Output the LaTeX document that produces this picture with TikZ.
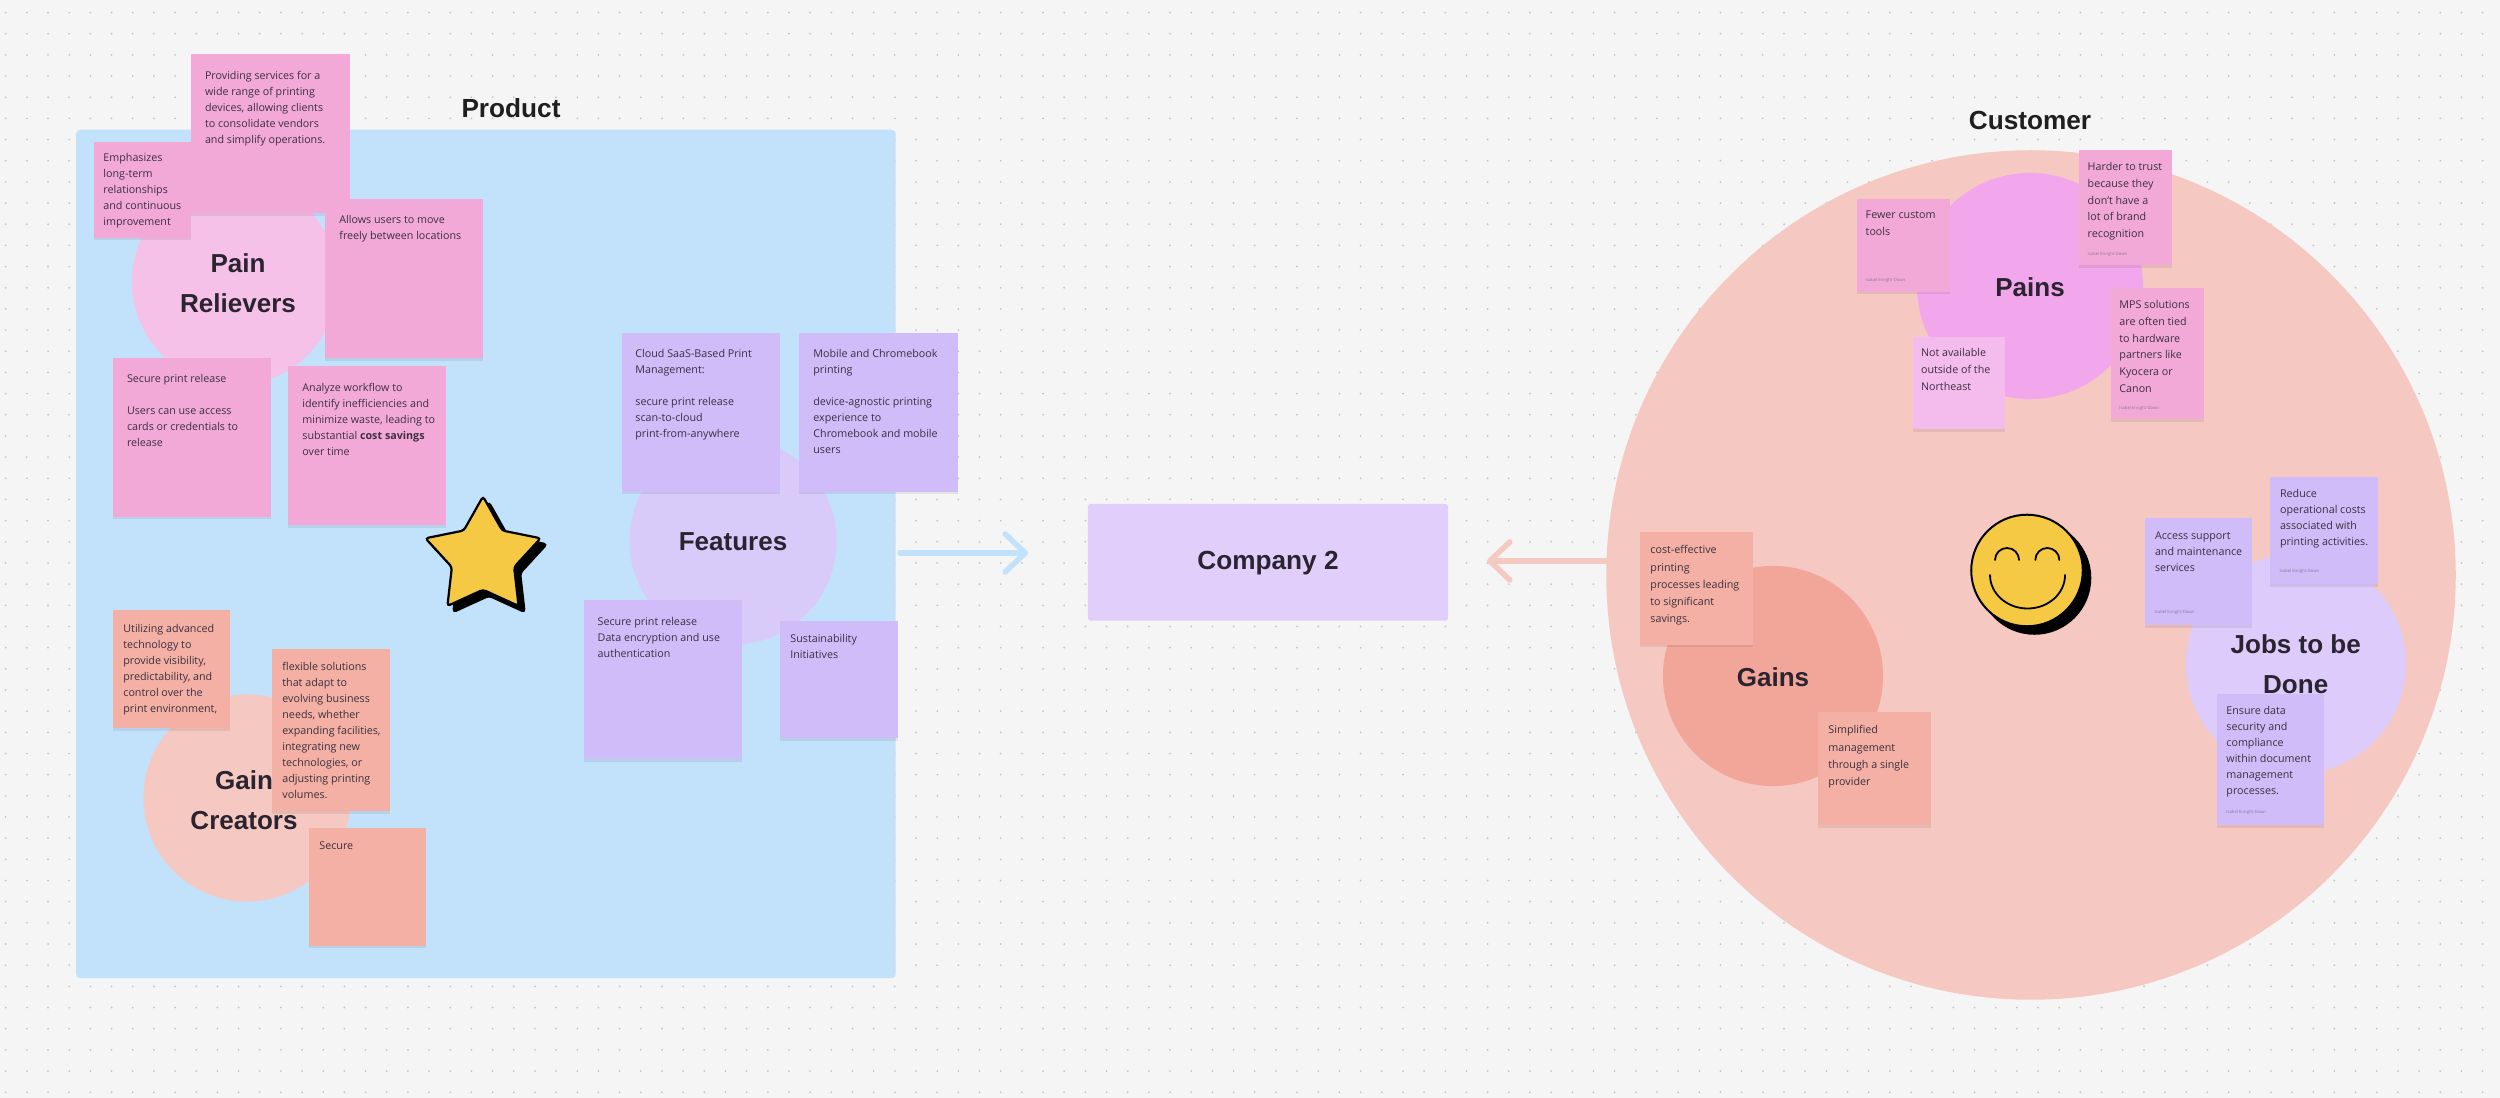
\documentclass[tikz,border=0pt]{standalone}
\usepackage{fontspec}
\setmainfont{Open Sans}
\newfontfamily\headfont{Liberation Sans}
\usetikzlibrary{shapes.geometric, arrows.meta, shadows}
\definecolor{boardbg}{HTML}{F5F5F5}
\definecolor{boarddot}{HTML}{C4C4C4}
\definecolor{productblue}{HTML}{C2E1FB}
\definecolor{customerrose}{HTML}{F6C8C2}
\definecolor{stickypink}{HTML}{F3A9D7}
\definecolor{stickypale}{HTML}{F4BCEC}
\definecolor{stickypeach}{HTML}{F4B0A4}
\definecolor{stickypurple}{HTML}{D0BCF8}
\definecolor{blobpink}{HTML}{F5C1E9}
\definecolor{blobpains}{HTML}{F2A6EC}
\definecolor{blobgains}{HTML}{F2A599}
\definecolor{blobfeatures}{HTML}{D8CBF9}
\definecolor{blobjobs}{HTML}{DDCCFB}
\definecolor{companyfill}{HTML}{E1CEFB}
\definecolor{facegold}{HTML}{F6C945}
\definecolor{inkdark}{HTML}{2A2430}
\definecolor{inknote}{HTML}{3A3040}
\definecolor{inkby}{HTML}{8C7A92}

\begin{document}
\begin{tikzpicture}[
    x=0.01cm, y=-0.01cm,
    sticky/.style={rectangle, fill=#1, anchor=north west, inner sep=0pt, outer sep=0pt,
                   drop shadow={shadow xshift=0pt, shadow yshift=-0.025cm, opacity=.07, fill=black}},
    notetext/.style={anchor=north west, inner sep=0pt, align=left, text=inknote,
                     font=\fontsize{3.05}{4.55}\selectfont},
    notewide/.style={notetext, font=\fontsize{3.05}{4.75}\selectfont},
    byline/.style={anchor=west, inner sep=0pt, text=inkby, font=\fontsize{1.2}{1.4}\selectfont},
    blob/.style={circle, fill=#1, inner sep=0pt, outer sep=0pt},
    bloblabel/.style={inner sep=0pt, align=center, text=inkdark,
                      font=\headfont\fontsize{7.4}{11.38}\selectfont\bfseries},
    title/.style={inner sep=0pt, text=black!88, font=\headfont\fontsize{7.45}{9}\selectfont\bfseries},
    bigarrow/.style={line width=0.055cm, line cap=round, color=#1,
                     -{Straight Barb[length=0.2cm, width=0.38cm, round]}},
    staricon/.style={star, star points=5, star point ratio=1.85, minimum size=1.21cm, inner sep=0pt,
                     line width=0.022cm, draw=black, rounded corners=0.03cm},
    faceicon/.style={circle, minimum size=1.115cm, inner sep=0pt, line width=0.02cm, draw=black}
]
\useasboundingbox (0,0) rectangle (2500,1098);
\fill[boardbg] (0,0) rectangle (2500,1098);

% dotted board
\foreach \dy in {0,...,51} {
    \foreach \dx in {0,...,117} {
        \fill[boarddot] (5.7+21.17*\dx, 12.56+21.17*\dy) circle[radius=0.01cm];
    }
}

\node[title] (producttitle)  at (511,108)  {Product};
\node[title] (customertitle) at (2030,120) {Customer};

% product side
\node[rectangle, fill=productblue, rounded corners=0.04cm, anchor=north west, inner sep=0pt,
      minimum width=8.19cm, minimum height=8.48cm] (productarea) at (75.5,129) {};

\node[blob=blobpink, minimum size=2.06cm]      (painrel)  at (235,282) {};
\node[blob=customerrose, minimum size=2.07cm]  (gaincr)   at (247,798) {};
\node[blob=blobfeatures, minimum size=2.07cm]  (features) at (733,541) {};
\node[bloblabel] (painrellbl)  at (238,283) {Pain~\\Relievers};
\node[bloblabel] (gaincrlbl)   at (244,800)   {Gain~\\Creators};
\node[bloblabel] (featureslbl) at (733,541.5) {Features};

\node[sticky=stickypink, minimum width=1.59cm, minimum height=1.59cm]  (prprov)  at (191,54)    {};
\node[sticky=stickypink, minimum width=0.97cm, minimum height=0.96cm]  (premph)  at (94.3,141.7) {};
\node[sticky=stickypink, minimum width=1.58cm, minimum height=1.59cm]  (prallow) at (325.3,199) {};
\node[sticky=stickypink, minimum width=1.58cm, minimum height=1.59cm]  (prsec)   at (113.3,357.7) {};
\node[sticky=stickypink, minimum width=1.58cm, minimum height=1.59cm]  (pranal)  at (288.3,366.3) {};
\node[notetext] (prprovtxt)  at (204.3,71)  {Providing services for a\\wide range of printing\\devices, allowing clients\\to consolidate vendors\\and simplify operations.};
\node[notetext] (premphtxt)  at (102.7,153) {Emphasizes\\long-term\\relationships\\and continuous\\improvement};
\node[notetext] (prallowtxt) at (338.7,215) {Allows users to move\\freely between locations};
\node[notetext] (prsectxt)   at (126.3,374) {Secure print release\\~\\Users can use access\\cards or credentials to\\release};
\node[notetext] (pranaltxt)  at (301.7,383) {Analyze workflow to\\identify inefficiencies and\\minimize waste, leading to\\substantial \textbf{cost savings}\\over time};

\node[sticky=stickypeach, minimum width=1.17cm, minimum height=1.18cm] (gcutil) at (113,610)   {};
\node[sticky=stickypeach, minimum width=1.18cm, minimum height=1.62cm] (gcflex) at (271.7,649) {};
\node[sticky=stickypeach, minimum width=1.17cm, minimum height=1.18cm] (gcsec)  at (308.7,827.7) {};
\node[notetext] (gcutiltxt) at (122.7,623.5) {Utilizing advanced\\technology to\\provide visibility,\\predictability, and\\control over the\\print environment,};
\node[notetext] (gcflextxt) at (281.7,662)   {flexible solutions\\that adapt to\\evolving business\\needs, whether\\expanding facilities,\\integrating new\\technologies, or\\adjusting printing\\volumes.};
\node[notetext] (gcsectxt)  at (318.7,841)   {Secure};

\node[sticky=stickypurple, minimum width=1.58cm, minimum height=1.59cm] (ftcloud)  at (621.7,332.7) {};
\node[sticky=stickypurple, minimum width=1.59cm, minimum height=1.59cm] (ftmobile) at (799.3,332.7) {};
\node[sticky=stickypurple, minimum width=1.58cm, minimum height=1.59cm] (ftsec)    at (584,600)     {};
\node[sticky=stickypurple, minimum width=1.175cm, minimum height=1.17cm] (ftsust)  at (780,621)     {};
\node[notetext] (ftcloudtxt)  at (634.7,349) {Cloud SaaS-Based Print\\Management:\\~\\secure print release\\scan-to-cloud\\print-from-anywhere};
\node[notetext] (ftmobiletxt) at (812.7,349) {Mobile and Chromebook\\printing\\~\\device-agnostic printing\\experience to\\Chromebook and mobile\\users};
\node[notetext] (ftsectxt)    at (597,617)   {Secure print release\\Data encryption and use\\authentication};
\node[notetext] (ftsusttxt)   at (789.7,634) {Sustainability\\Initiatives};

\node[staricon, fill=black, draw=black] (starback) at (489,563) {};
\node[staricon, fill=facegold]          (starfront) at (483,557) {};

% middle
\node[rectangle, fill=companyfill, rounded corners=0.03cm, inner sep=0pt,
      minimum width=3.6cm, minimum height=1.167cm] (company) at (1268,562.3) {};
\node[title, text=inkdark] (companylbl) at (1268,563.5) {Company 2};

% customer side
\node[circle, fill=customerrose, minimum size=8.49cm, inner sep=0pt, outer sep=0pt] (customer) at (2031,575) {};

\node[blob=blobpains, minimum size=2.26cm] (pains) at (2030,286) {};
\node[blob=blobgains, minimum size=2.2cm]  (gains) at (1773,676) {};
\node[blob=blobjobs, minimum size=2.2cm]   (jobs)  at (2296,664) {};
\node[bloblabel] (painslbl) at (2030,287)   {Pains};
\node[bloblabel] (gainslbl) at (1773,677)   {Gains};
\node[bloblabel] (jobslbl)  at (2295.7,664.5) {Jobs to be~\\Done};

\coordinate (productout) at (900,553);
\coordinate (companyin)  at (1028,553);
\coordinate (customerout) at (1607,561);
\coordinate (companyback) at (1487,561);
\draw[bigarrow=productblue]  (productout)  -- (companyin);
\draw[bigarrow=customerrose] (customerout) -- (companyback);

\node[sticky=stickypink, minimum width=0.925cm, minimum height=0.925cm] (pnfew)  at (1857,199.3) {};
\node[sticky=stickypink, minimum width=0.925cm, minimum height=1.15cm]  (pnhard) at (2079,150)   {};
\node[sticky=stickypink, minimum width=0.925cm, minimum height=1.31cm]  (pnmps)  at (2111,288.3) {};
\node[sticky=stickypale, minimum width=0.925cm, minimum height=0.925cm] (pnnot)  at (1912.7,336.7) {};
\node[notewide] (pnfewtxt)  at (1865,210.5) {Fewer custom\\tools};
\node[notewide] (pnhardtxt) at (2087,162)   {Harder to trust\\because they\\don't have a\\lot of brand\\recognition};
\node[notewide] (pnmpstxt)  at (2118.7,300) {MPS solutions\\are often tied\\to hardware\\partners like\\Kyocera or\\Canon};
\node[notewide] (pnnottxt)  at (1920.3,348) {Not available\\outside of the\\Northeast};
\node[byline] (pnfewby)  at (1865,280.7)  {Isabel Enright-Down};
\node[byline] (pnhardby) at (2087,254)    {Isabel Enright-Down};
\node[byline] (pnmpsby)  at (2118.7,408.7) {Isabel Enright-Down};

\node[sticky=stickypeach, minimum width=1.13cm, minimum height=1.13cm] (gncost) at (1640.3,531.7) {};
\node[sticky=stickypeach, minimum width=1.13cm, minimum height=1.13cm] (gnsimp) at (1818.3,712.3) {};
\node[notewide, font=\fontsize{3.05}{4.9}\selectfont] (gncosttxt) at (1649.7,545) {cost-effective\\printing\\processes leading\\to significant\\savings.};
\node[notewide, font=\fontsize{3.05}{4.9}\selectfont] (gnsimptxt) at (1827.7,725) {Simplified\\management\\through a single\\provider};

\node[sticky=stickypurple, minimum width=1.07cm, minimum height=1.07cm] (jbacc) at (2145.3,518.3) {};
\node[sticky=stickypurple, minimum width=1.075cm, minimum height=1.075cm] (jbred) at (2270.3,476.7) {};
\node[sticky=stickypurple, minimum width=1.075cm, minimum height=1.31cm] (jbens) at (2216.7,694.3) {};
\node[notetext] (jbacctxt) at (2154.3,531) {Access support\\and maintenance\\services};
\node[notetext] (jbredtxt) at (2279.3,489) {Reduce\\operational costs\\associated with\\printing activities.};
\node[notetext] (jbenstxt) at (2225.7,706) {Ensure data\\security and\\compliance\\within document\\management\\processes.};
\node[byline] (jbaccby) at (2154,612.7)   {Isabel Enright-Down};
\node[byline] (jbredby) at (2279,571)     {Isabel Enright-Down};
\node[byline] (jbensby) at (2225.7,812.3) {Isabel Enright-Down};

% smiley
\node[faceicon, fill=black]    (faceback)  at (2034.5,578) {};
\node[faceicon, fill=facegold] (facefront) at (2027,570.5) {};
\draw[line width=0.018cm, line cap=round] (1995,560)   arc[start angle=180, end angle=0, radius=0.12cm];
\draw[line width=0.018cm, line cap=round] (2035.3,560) arc[start angle=180, end angle=0, radius=0.12cm];
\draw[line width=0.018cm, line cap=round] (1990,575)   arc[start angle=180, end angle=360, x radius=0.375cm, y radius=0.335cm];
\end{tikzpicture}
\end{document}
